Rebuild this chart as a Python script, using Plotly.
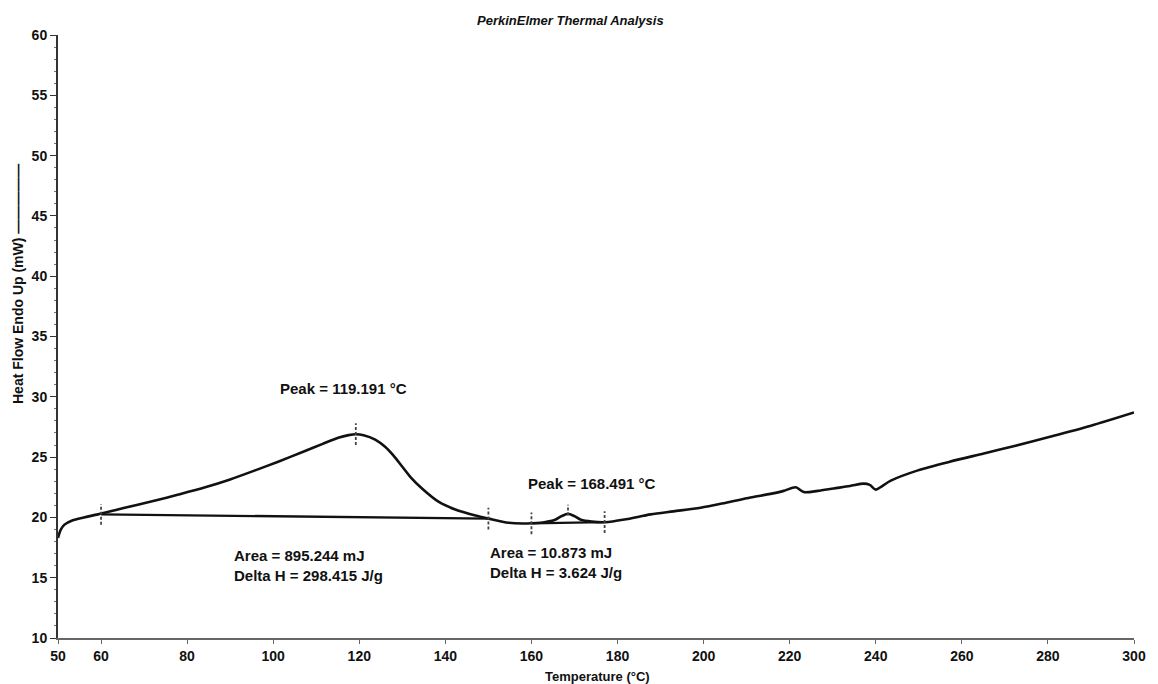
import plotly.graph_objects as go

# Main DSC curve
temp = [50, 50.6, 51.5, 53.3, 56, 59.3, 65, 72.6, 78, 84.2, 90, 95.8, 101, 107.4, 111.5,
        115.1, 117.5, 119.2, 121, 123.7, 126, 128, 130, 132, 134.7, 138.4, 142.3, 147, 150,
        154.7, 159, 163, 165.5, 167, 168.5, 170, 171.5, 174, 177.2, 182, 187.7, 193, 199.3,
        205, 210.9, 215.5, 218.6, 221.4, 223.3, 226.5, 230.2, 234, 237.2, 238.6, 240,
        241.5, 243.5, 249.8, 257, 265.1, 272, 280.7, 290, 300]
heat = [18.3, 18.95, 19.4, 19.75, 20.0, 20.25, 20.75, 21.4, 21.9, 22.5, 23.15, 23.9, 24.6,
        25.5, 26.1, 26.6, 26.82, 26.9, 26.82, 26.45, 25.85, 25.1, 24.2, 23.3, 22.35, 21.3, 20.65,
        20.15, 19.9, 19.55, 19.5, 19.6, 19.8, 20.1, 20.3, 20.1, 19.8, 19.65, 19.6, 19.85, 20.25,
        20.5, 20.8, 21.2, 21.65, 21.95, 22.2, 22.5, 22.1, 22.2, 22.4, 22.6, 22.8, 22.7, 22.3,
        22.6, 23.05, 23.9, 24.6, 25.3, 25.9, 26.7, 27.6, 28.7]

# Integration baselines
base1_t = [60, 150]
base1_h = [20.25, 19.9]
base2_t = [160, 177]
base2_h = [19.5, 19.6]

# Event markers (x, centre y, half-height)
mark_t = [60, 119.191, 150, 160, 168.491, 177]
mark_h = [20.25, 26.9, 19.9, 19.5, 20.6, 19.6]
mark_half = [0.85, 0.9, 0.9, 0.9, 0.45, 0.9]

x_ticks = [50, 60, 80, 100, 120, 140, 160, 180, 200, 220, 240, 260, 280, 300]
y_ticks = [10, 15, 20, 25, 30, 35, 40, 45, 50, 55, 60]

# Annotation texts
peak1_text = "Peak = 119.191 °C"
peak2_text = "Peak = 168.491 °C"
area1_text = "Area = 895.244 mJ<br>Delta H = 298.415 J/g"
area2_text = "Area = 10.873 mJ<br>Delta H = 3.624 J/g"
title_text = "PerkinElmer Thermal Analysis"
ylab_text = "Heat Flow Endo Up (mW) —————"
xlab_text = "Temperature (°C)"

FONT = "Liberation Sans"

fig = go.Figure()

fig.add_trace(go.Scatter(x=temp, y=heat, mode="lines",
                         line=dict(color="#111111", width=2.6, shape="spline", smoothing=0.8),
                         hoverinfo="skip", showlegend=False))
fig.add_trace(go.Scatter(x=base1_t, y=base1_h, mode="lines",
                         line=dict(color="#111111", width=2.4), showlegend=False))
fig.add_trace(go.Scatter(x=base2_t, y=base2_h, mode="lines",
                         line=dict(color="#111111", width=2.2), showlegend=False))

mx, my = [], []
for t, h, d in zip(mark_t, mark_h, mark_half):
    mx += [t, t, None]
    my += [h - d, h + d, None]
fig.add_trace(go.Scatter(x=mx, y=my, mode="lines",
                         line=dict(color="#444444", width=1.8, dash="3px,2px"),
                         showlegend=False))

bold = dict(family=FONT, size=15, color="#111111", weight="bold")

fig.add_annotation(x=116.3, y=30.66, text=peak1_text, showarrow=False, font=bold,
                   xanchor="center", yanchor="middle")
fig.add_annotation(x=174.0, y=22.8, text=peak2_text, showarrow=False, font=bold,
                   xanchor="center", yanchor="middle")
fig.add_annotation(x=90.5, y=16.0, text=area1_text, showarrow=False, font=bold,
                   xanchor="left", yanchor="middle", align="left")
fig.add_annotation(x=150.0, y=16.3, text=area2_text, showarrow=False, font=bold,
                   xanchor="left", yanchor="middle", align="left")

fig.add_annotation(x=(570 - 58) / 1076, xref="paper", y=1 + (35 - 20) / 603, yref="paper",
                   text=title_text, showarrow=False,
                   font=dict(family=FONT, size=13, color="#111111", weight="bold", style="italic"),
                   xanchor="center", yanchor="middle")
fig.add_annotation(x=(18 - 58) / 1076, xref="paper", y=(638 - 284) / 603, yref="paper",
                   text=ylab_text, textangle=-90, showarrow=False,
                   font=dict(family=FONT, size=14, color="#111111", weight="bold"),
                   xanchor="center", yanchor="middle")
fig.add_annotation(x=(597 - 58) / 1076, xref="paper", y=-(676 - 638) / 603, yref="paper",
                   text=xlab_text, showarrow=False,
                   font=dict(family=FONT, size=13, color="#111111", weight="bold"),
                   xanchor="center", yanchor="middle")

fig.update_layout(
    width=1158, height=684,
    margin=dict(l=58, r=24, t=35, b=46),
    paper_bgcolor="white", plot_bgcolor="white",
    showlegend=False,
    xaxis=dict(range=[50, 300], tickvals=x_ticks, ticktext=[str(v) for v in x_ticks],
               showgrid=False, zeroline=False, showline=True, linecolor="#666666",
               linewidth=1.5, ticks="outside", ticklen=4, tickcolor="#666666",
               tickfont=dict(family=FONT, size=14, color="#111111", weight="bold")),
    yaxis=dict(range=[10, 60], tickvals=y_ticks, showgrid=False, zeroline=False,
               showline=True, linecolor="#333333", linewidth=2, ticks="outside",
               ticklen=6, tickcolor="#333333",
               minor=dict(ticks="outside", ticklen=2, dtick=1, tickcolor="#777777"),
               tickfont=dict(family=FONT, size=14, color="#111111", weight="bold")),
)

fig.write_html("out.html")
